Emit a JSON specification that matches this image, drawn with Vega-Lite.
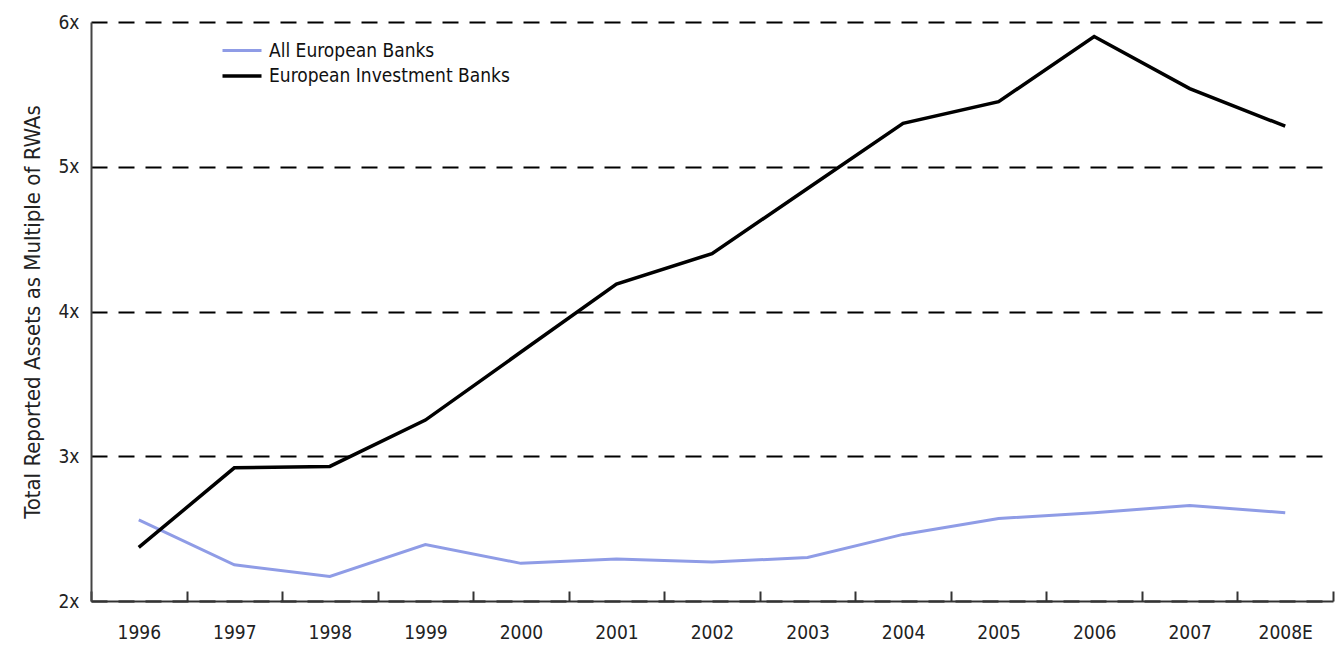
{
  "$schema": "https://vega.github.io/schema/vega-lite/v6.json",
  "width": 1242,
  "height": 579,
  "autosize": "none",
  "padding": {"left": 91, "top": 22, "right": 9, "bottom": 53},
  "background": "white",
  "config": {"view": {"stroke": null}, "font": "'DejaVu Sans Condensed', 'DejaVu Sans', sans-serif"},
  "data": {"values": [
    {"year": "1996", "series": "All European Banks", "v": 2.56},
    {"year": "1997", "series": "All European Banks", "v": 2.25},
    {"year": "1998", "series": "All European Banks", "v": 2.17},
    {"year": "1999", "series": "All European Banks", "v": 2.39},
    {"year": "2000", "series": "All European Banks", "v": 2.26},
    {"year": "2001", "series": "All European Banks", "v": 2.29},
    {"year": "2002", "series": "All European Banks", "v": 2.27},
    {"year": "2003", "series": "All European Banks", "v": 2.30},
    {"year": "2004", "series": "All European Banks", "v": 2.46},
    {"year": "2005", "series": "All European Banks", "v": 2.57},
    {"year": "2006", "series": "All European Banks", "v": 2.61},
    {"year": "2007", "series": "All European Banks", "v": 2.66},
    {"year": "2008E", "series": "All European Banks", "v": 2.61},
    {"year": "1996", "series": "European Investment Banks", "v": 2.37},
    {"year": "1997", "series": "European Investment Banks", "v": 2.92},
    {"year": "1998", "series": "European Investment Banks", "v": 2.93},
    {"year": "1999", "series": "European Investment Banks", "v": 3.25},
    {"year": "2000", "series": "European Investment Banks", "v": 3.72},
    {"year": "2001", "series": "European Investment Banks", "v": 4.19},
    {"year": "2002", "series": "European Investment Banks", "v": 4.40},
    {"year": "2003", "series": "European Investment Banks", "v": 4.85},
    {"year": "2004", "series": "European Investment Banks", "v": 5.30},
    {"year": "2005", "series": "European Investment Banks", "v": 5.45},
    {"year": "2006", "series": "European Investment Banks", "v": 5.90},
    {"year": "2007", "series": "European Investment Banks", "v": 5.54},
    {"year": "2008E", "series": "European Investment Banks", "v": 5.28}
  ]},
  "mark": {"type": "line", "strokeJoin": "miter"},
  "encoding": {
    "x": {
      "field": "year", "type": "ordinal", "sort": null,
      "scale": {"paddingInner": 0, "paddingOuter": 0},
      "axis": {
        "title": null, "labelAngle": 0, "labelFontSize": 19, "labelColor": "#222",
        "labelPadding": 32, "tickBand": "extent", "tickSize": -10, "tickWidth": 2,
        "tickColor": "#333", "domainColor": "#333", "domainWidth": 2
      }
    },
    "y": {
      "field": "v", "type": "quantitative",
      "scale": {"domain": [2, 6], "nice": false, "zero": false},
      "axis": {
        "values": [2, 3, 4, 5, 6], "labelExpr": "datum.value + 'x'",
        "title": "Total Reported Assets as Multiple of RWAs",
        "titleFontSize": 22, "titleFontWeight": "normal", "titleColor": "#222", "titlePadding": 14,
        "labelFontSize": 19, "labelColor": "#222", "labelPadding": 12,
        "ticks": false, "domainColor": "#444", "domainWidth": 2,
        "grid": true, "gridColor": "#000", "gridDash": [16, 11], "gridWidth": 2
      }
    },
    "color": {
      "field": "series", "type": "nominal",
      "scale": {"domain": ["All European Banks", "European Investment Banks"], "range": ["#8f9ce6", "#000000"]},
      "legend": {
        "title": null, "orient": "none", "legendX": 136, "legendY": 14,
        "symbolType": "M-1.5,0H1.5", "symbolSize": 676, "symbolStrokeWidth": 4,
        "labelFontSize": 19, "labelColor": "#111", "rowPadding": 0, "labelOffset": 12, "labelLimit": 400
      }
    },
    "strokeWidth": {
      "field": "series", "type": "nominal",
      "scale": {"domain": ["All European Banks", "European Investment Banks"], "range": [3, 3.5]},
      "legend": null
    }
  }
}
